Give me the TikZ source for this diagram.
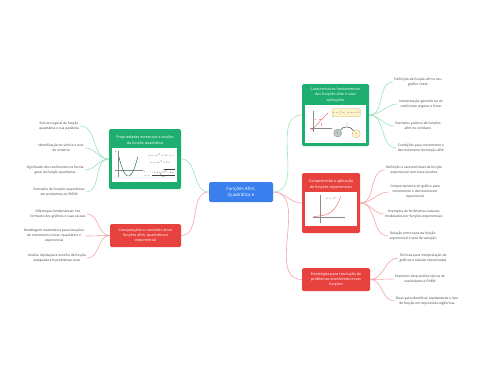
\documentclass[tikz,border=0pt]{standalone}
\usepackage{fontspec}
\setmainfont{Open Sans}
\usetikzlibrary{positioning}
\definecolor{mapgreen}{HTML}{1EAE6F}
\definecolor{mapred}{HTML}{E8423F}
\definecolor{mapblue}{HTML}{3B7FEF}
\definecolor{linkgreen}{HTML}{9FE2C0}
\definecolor{linkred}{HTML}{F4A7AC}
\definecolor{leaftext}{HTML}{404040}
\definecolor{notebg}{HTML}{FFF4CC}
\definecolor{noteline}{HTML}{C8B071}
\definecolor{axisgray}{HTML}{8A8A8A}

\begin{document}
\begin{tikzpicture}[x=1bp, y=-1bp,
    topic/.style={rectangle, rounded corners=1.5bp, inner sep=0pt, text=white, align=center,
        font=\fontsize{3.7}{5.2}\selectfont},
    boxtitle/.style={inner sep=0pt, text=white, align=center, font=\fontsize{3.7}{5.2}\selectfont},
    inset/.style={rectangle, fill=white, inner sep=0pt},
    leaf/.style={inner sep=1.2bp, text=leaftext, align=center, font=\fontsize{3.3}{5}\selectfont},
    linkg/.style={draw=linkgreen, line width=0.6bp},
    linkr/.style={draw=linkred, line width=0.6bp},
    axis/.style={draw=axisgray, line width=0.35bp},
    tiny/.style={inner sep=0pt, text=black!75, font=\fontsize{5}{6}\selectfont, scale=0.5},
]
    \useasboundingbox[fill=white] (0,0) rectangle (480,384);

    % central topic
    \node[topic, fill=mapblue, minimum width=64bp, minimum height=20bp,
        font=\fontsize{4.5}{6.3}\selectfont] (root) at (241,192) {Funções Afim,\\Quadrática e};

    % right side branches
    \node[topic, fill=mapgreen, minimum width=67bp, minimum height=62bp] (affine) at (335.5,115) {};
    \node[boxtitle] (affinetitle) at (335.5,95) {Características fundamentais\\das funções afim e suas\\aplicações};
    \node[inset, minimum width=61bp, minimum height=38bp] (affinepic) at (335.5,124) {};

    \node[topic, fill=mapred, minimum width=58bp, minimum height=60bp] (expo) at (331,203) {};
    \node[boxtitle] (expotitle) at (331,184.5) {Compreensão e aplicação\\de funções exponenciais};
    \node[inset, minimum width=52bp, minimum height=34bp] (expopic) at (331,209) {};

    \node[topic, fill=mapred, minimum width=68bp, minimum height=23bp] (strategy) at (336,279.5)
        {Estratégias para resolução de\\problemas envolvendo essas\\funções};

    % left side branches
    \node[topic, fill=mapgreen, minimum width=72bp, minimum height=60bp] (quad) at (145,159) {};
    \node[boxtitle] (quadtitle) at (145,140.5) {Propriedades essenciais e análise\\da função quadrática};
    \node[inset, minimum width=65bp, minimum height=34bp] (quadpic) at (144.5,165) {};

    \node[topic, fill=mapred, minimum width=71bp, minimum height=23bp] (compare) at (145.5,235.5)
        {Comparações e conexões entre\\funções afim, quadrática e\\exponencial};

    % picture: affine function
    \draw[axis] (313.3,131.7) -- (313.3,111);
    \draw[axis] (310,128.3) -- (331.7,128.3);
    \draw[draw=linkred, line width=0.3bp, dashed] (313.3,119) -- (321,119) -- (321,128.3);
    \draw[draw=mapred!80, line width=0.45bp] (311.5,130.3) -- (328,113);
    \node[draw=noteline, fill=notebg, rounded corners=0.8bp, line width=0.3bp, minimum width=28bp,
        minimum height=8bp] (affinenote) at (346.3,112.7) {};
    \node[tiny] (affinenotetext) at (346.3,112.7) {$y=f(x)=ax+b$};
    \node[circle, draw=axisgray, fill=mapgreen!25!gray!45, line width=0.3bp, minimum size=8bp, inner sep=0pt] (xin) at (337.7,133) {};
    \node[circle, draw=noteline, fill=notebg, line width=0.3bp, minimum size=8bp, inner sep=0pt] (yout) at (356.3,133.7) {};
    \node[tiny] (xinlabel) at (xin) {$x$};
    \node[tiny] (youtlabel) at (yout) {$y$};
    \draw[line width=0.35bp] (xin.north east) to[out=70, in=110] node[tiny, above=0.5bp] {$f$} (yout.north west);

    % picture: exponential function
    \draw[axis] (320.3,222.7) -- (320.3,195);
    \draw[axis] (313.3,217) -- (345,217);
    \draw[draw=mapred!80, line width=0.45bp, domain=0:1, samples=30]
        plot ({313.3+27.4*\x}, {216.5-20*(exp(4*\x)-1)/(exp(4)-1)});
    \node[tiny] (expolabel) at (331.5,199) {$y=a^x$};

    % picture: quadratic function
    \draw[axis] (117.7,176.7) -- (117.7,151);
    \draw[axis] (115,170) -- (143.3,170);
    \draw[draw=mapgreen!60!black, line width=0.45bp, domain=-9.5:9.5, samples=30]
        plot ({128.3+\x}, {176-0.215*\x*\x});
    \node[tiny] (quady) at (116,152) {$y$};
    \node[tiny] (quadx) at (144.5,171.5) {$x$};
    \node[tiny] (quadf1) at (161,155) {$y=ax^2+bx+c$};
    \node[tiny] (quadf2) at (160,162.3) {$y=ax^2+bx$};
    \node[tiny] (quadf3) at (160,173.2) {$x=\frac{-b\pm\sqrt{b^2-4ac}}{2a}$};

    % leaves: affine
    \node[leaf] (affine1) at (418,82) {Definição da função afim e seu\\gráfico linear};
    \node[leaf] (affine2) at (421,104) {Interpretação geométrica do\\coeficiente angular e linear};
    \node[leaf] (affine3) at (418,126) {Exemplos práticos de funções\\afim no cotidiano};
    \node[leaf] (affine4) at (421,148) {Condições para crescimento e\\decrescimento da função afim};

    % leaves: exponential
    \node[leaf] (expo1) at (414,170) {Definição e características da função\\exponencial com base positiva};
    \node[leaf] (expo2) at (415,192) {Comportamento do gráfico para\\crescimento e decrescimento\\exponencial};
    \node[leaf] (expo3) at (414,214) {Exemplos de fenômenos naturais\\modelados por funções exponenciais};
    \node[leaf] (expo4) at (413,236) {Relação entre base da função\\exponencial e taxa de variação};

    % leaves: strategies
    \node[leaf] (strategy1) at (423,258) {Técnicas para interpretação de\\gráficos e tabelas relacionadas};
    \node[leaf] (strategy2) at (420,279) {Exemplos de questões típicas de\\vestibulares e ENEM};
    \node[leaf] (strategy3) at (427,301) {Dicas para identificar rapidamente o tipo\\de função em expressões algébricas};

    % leaves: quadratic
    \node[leaf] (quad1) at (59,126) {Estrutura geral da função\\quadrática e sua parábola};
    \node[leaf] (quad2) at (61,148) {Identificação do vértice e eixo\\de simetria};
    \node[leaf] (quad3) at (55,170) {Significado dos coeficientes na forma\\geral da função quadrática};
    \node[leaf] (quad4) at (59,192) {Exemplos de funções quadráticas\\em problemas do ENEM};

    % leaves: comparisons
    \node[leaf] (compare1) at (58,214) {Diferenças fundamentais nos\\formatos dos gráficos e suas causas};
    \node[leaf] (compare2) at (54,236) {Modelagem matemática para situações\\de crescimento linear, quadrático e\\exponencial};
    \node[leaf] (compare3) at (57,258) {Análise rápida para escolha de função\\adequada em problemas reais};

    % main branches
    \draw[linkg] (root.east) to[out=0, in=180] (affine.west);
    \draw[linkr] (root.east) to[out=0, in=180] (expo.west);
    \draw[linkr] (root.east) to[out=0, in=180] (strategy.west);
    \draw[linkg] (root.west) to[out=180, in=0] (quad.east);
    \draw[linkr] (root.west) to[out=180, in=0] (compare.east);

    % leaf branches
    \foreach \i in {1,...,4} {
        \draw[linkg] (affine.east) to[out=0, in=180] (affine\i.west);
        \draw[linkr] (expo.east) to[out=0, in=180] (expo\i.west);
        \draw[linkg] (quad.west) to[out=180, in=0] (quad\i.east);
    }
    \foreach \i in {1,...,3} {
        \draw[linkr] (strategy.east) to[out=0, in=180] (strategy\i.west);
        \draw[linkr] (compare.west) to[out=180, in=0] (compare\i.east);
    }
\end{tikzpicture}
\end{document}
